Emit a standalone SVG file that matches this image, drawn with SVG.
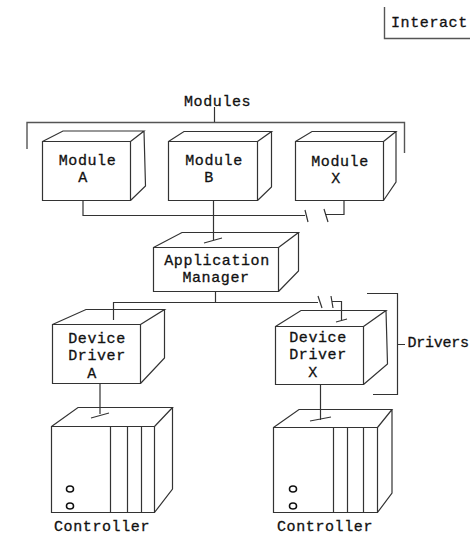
<svg xmlns="http://www.w3.org/2000/svg" width="471" height="541" viewBox="0 0 471 541">
<style>
rect.bg{fill:#fff}
path,circle,ellipse{fill:none;stroke:#333;stroke-width:1.2}
ellipse{stroke:#111;stroke-width:1.6}
path.br{stroke:#555;stroke-width:1.4}
text{font-family:"Liberation Mono","DejaVu Sans Mono",monospace;font-size:15px;letter-spacing:.6px;fill:#111;stroke:#111;stroke-width:.3}
text.m{text-anchor:middle}
</style>
<rect class="bg" width="471" height="541"/>
<g id="interact"><path class="br" d="M384.500 7V38.500H470"/><text x="391" y="27">Interact</text></g>
<g id="modules-label"><path class="br" d="M27 149V122.500H404.500V153"/><path d="M214.500 107V122"/><text x="184" y="106">Modules</text></g>
<g id="module-a"><path d="M42.500 141.500H130.500V200.500H42.500ZM42.500 141.500L63 131H144L130.500 141.500M144 131L145.500 186L130.500 200.500"/><text class="m" x="87.500" y="165">Module</text><text class="m" x="83" y="182">A</text></g>
<g id="module-b"><path d="M168.500 141.500H257.500V200.500H168.500ZM168.500 141.500L184 131.500H271.500L257.500 141.500M271.500 131.500V187L257.500 200.500"/><text class="m" x="214" y="165">Module</text><text class="m" x="209" y="182">B</text></g>
<g id="module-x"><path d="M295.500 141.500H383.500V200.500H295.500ZM295.500 141.500L312 131.500H396L383.500 141.500M396 131.500V182L383.500 200.500"/><text class="m" x="340" y="166">Module</text><text class="m" x="336" y="183">X</text></g>
<g id="application-manager"><path d="M153.500 247.500H278.500V291.500H153.500ZM153.500 247.500L182 232.500H298.500L278.500 247.500M298.500 232.500V271L278.500 291.500"/><text class="m" x="217" y="265">Application</text><text class="m" x="216" y="282">Manager</text></g>
<g id="device-driver-a"><path d="M52.500 324.500H140.500V383.500H52.500ZM52.500 324.500L86 309.500H164.500L140.500 324.500M164.500 309.500V358L140.500 383.500"/><text class="m" x="97" y="343">Device</text><text class="m" x="97" y="360">Driver</text><text class="m" x="92" y="378">A</text></g>
<g id="device-driver-x"><path d="M275.500 326.500H363.500V384.500H275.500ZM275.500 326.500L301 310.500H386L363.500 326.500M386 310.500L387.500 364L363.500 384.500"/><text class="m" x="318" y="342">Device</text><text class="m" x="318" y="359">Driver</text><text class="m" x="313" y="377">X</text></g>
<g id="drivers-label"><path d="M367 293.500H397.500V394.500H373M398 344.500H405"/><text x="407.500" y="347" textLength="62">Drivers</text></g>
<g id="controller-a"><path d="M51.500 426.500H154.500V512.500H51.500ZM51.500 426.500L78 407.500H172.500L154.500 426.500M172.500 407.500V489L154.500 512.500M110.500 426.500V512M127.500 426.500V512M141.500 426.500V512"/><ellipse cx="70" cy="489" rx="3.500" ry="3"/><ellipse cx="70" cy="506" rx="3.500" ry="3"/><text x="54" y="531">Controller</text></g>
<g id="controller-x"><path d="M273.500 427.500H377.500V512.500H273.500ZM273.500 427.500L299 409.500H392L377.500 427.500M392 409.500V493L377.500 512.500M333.500 427.500V512M347.500 427.500V512M363.500 427.500V512"/><ellipse cx="293" cy="489" rx="3.500" ry="3"/><ellipse cx="293" cy="506" rx="3.500" ry="3"/><text x="277" y="531">Controller</text></g>
<g id="connectors">
<path d="M83 200.500V215.500H305M305 210L308 222M324 209L328 222M325 214.500H344V200.500"/>
<path d="M213.500 200.500V240M204 243L222 238"/>
<path d="M215.500 291.500V302.500M113.500 320V302.500H318M318 296L322 308M331 296L333 308M332 301.500H341.500V321M336 322L347 319"/>
<path d="M100 383.500V414M91 418L109 413"/>
<path d="M320.500 384.500V420M310 421L331 417"/>
</g>
</svg>
